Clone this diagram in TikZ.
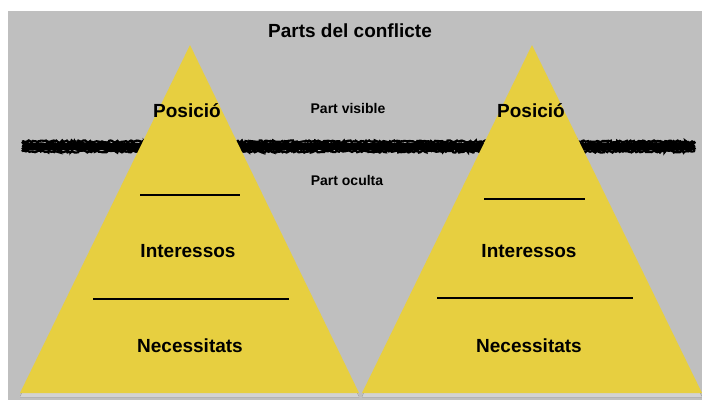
\documentclass[tikz,border=0pt]{standalone}
\usepackage{fontspec}
\setmainfont{Liberation Sans}
\usetikzlibrary{decorations.pathmorphing}
\definecolor{bg}{RGB}{191,191,191}
\definecolor{pyr}{RGB}{231,207,64}
\definecolor{shade}{RGB}{140,140,140}
\begin{document}
\begin{tikzpicture}[x=1pt,y=-1pt,
  lab/.style={font=\bfseries\fontsize{19}{21}\selectfont, inner sep=0pt},
  small/.style={font=\bfseries\fontsize{14}{16}\selectfont, inner sep=0pt},
  sepline/.style={line width=2pt, black},
  rough/.style={line width=2.2pt, black, decorate, decoration={random steps, segment length=1.5pt, amplitude=1.1pt}}]
\useasboundingbox (0,0) rectangle (702,400);
\fill[white] (0,0) rectangle (702,400);
\fill[bg] (8,11) rectangle (702,400);
% rough waterline
\pgfmathsetseed{7}
\coordinate (w1) at (23,143); \coordinate (w2) at (694,150);
\fill[black] (w1) rectangle (w2);
\foreach \dy in {-5,-3,-1,1,3,5} {
  \draw[rough] (22,146.5+\dy) -- (695,146.5+\dy);
}
% pyramids
\coordinate (LA) at (190,45); \coordinate (LB) at (20,393); \coordinate (LC) at (359,393);
\coordinate (RA) at (532,45); \coordinate (RB) at (362,393); \coordinate (RC) at (702,393);
\fill[shade, opacity=0.8] ([yshift=-4pt]LA) -- ([yshift=-4pt]LB) -- ([yshift=-4pt]LC) -- cycle;
\fill[shade, opacity=0.8] ([yshift=-4pt]RA) -- ([yshift=-4pt]RB) -- ([yshift=-4pt]RC) -- cycle;
\fill[pyr] (LA) -- (LB) -- (LC) -- cycle;
\fill[pyr] (RA) -- (RB) -- (RC) -- cycle;
% separator lines
\coordinate (l1a) at (140,195); \coordinate (l1b) at (240,195);
\coordinate (l2a) at (93,299);  \coordinate (l2b) at (289,299);
\coordinate (r1a) at (484,199); \coordinate (r1b) at (585,199);
\coordinate (r2a) at (437,298); \coordinate (r2b) at (633,298);
\draw[sepline] (l1a) -- (l1b);
\draw[sepline] (l2a) -- (l2b);
\draw[sepline] (r1a) -- (r1b);
\draw[sepline] (r2a) -- (r2b);
% texts
\node[lab] (title) at (350,31) {Parts del conflicte};
\node[lab] (posL) at (187,111) {Posició};
\node[lab] (posR) at (531,111) {Posició};
\node[small] (vis) at (348,108) {Part visible};
\node[small] (ocu) at (347,180) {Part oculta};
\node[lab] (intL) at (188,251) {Interessos};
\node[lab] (intR) at (529,251) {Interessos};
\node[lab] (necL) at (190,346) {Necessitats};
\node[lab] (necR) at (529,346) {Necessitats};
\end{tikzpicture}
\end{document}
